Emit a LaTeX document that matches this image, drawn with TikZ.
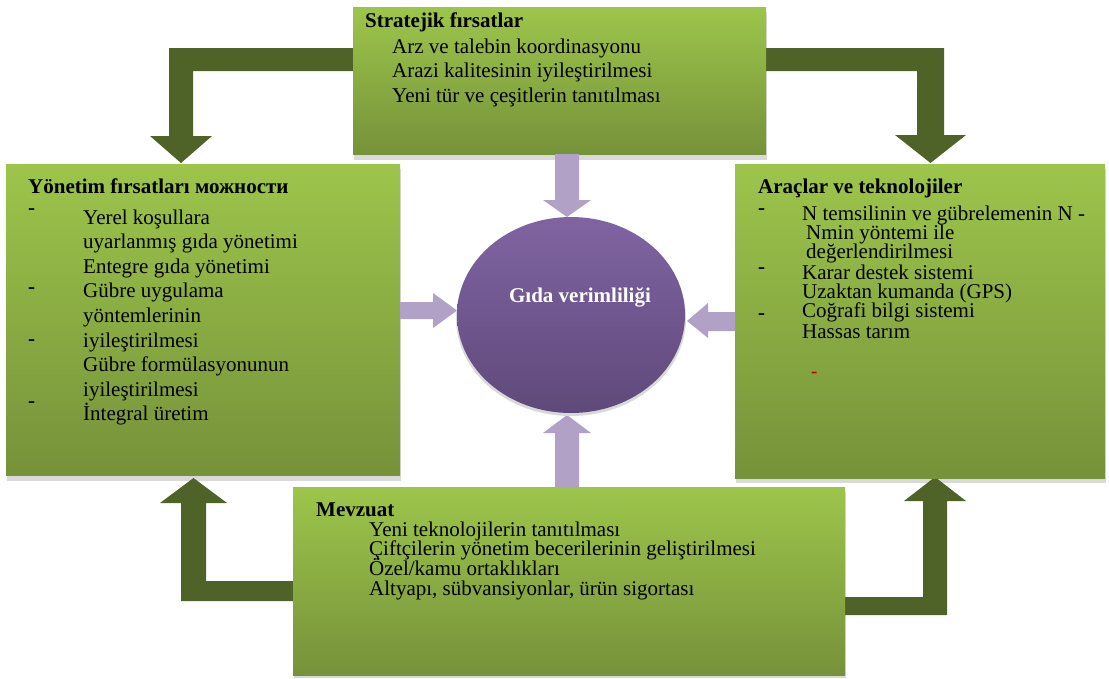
\documentclass[tikz,border=0pt]{standalone}
\usepackage{fontspec}
\setmainfont{Liberation Serif}
\definecolor{gtop}{RGB}{157,197,75}
\definecolor{gbot}{RGB}{118,146,58}
\definecolor{darkg}{RGB}{79,98,40}
\definecolor{lpurp}{RGB}{178,161,199}
\definecolor{ptop}{RGB}{128,100,162}
\definecolor{pbot}{RGB}{95,73,122}
\definecolor{shad}{RGB}{217,217,217}
\definecolor{reddash}{RGB}{192,0,0}
\begin{document}
\begin{tikzpicture}[x=1pt,y=-1pt,
  box/.style={top color=gtop,bottom color=gbot,inner sep=0pt,outer sep=0pt,anchor=north west},
  txt/.style={anchor=base west,inner sep=0pt,font=\fontsize{21}{24}\selectfont},
  ttl/.style={anchor=base west,inner sep=0pt,font=\fontsize{21}{24}\selectfont\bfseries},
  dsh/.style={anchor=base west,inner sep=0pt,font=\fontsize{21}{24}\selectfont\bfseries},
  darr/.style={fill=darkg},
  parr/.style={fill=lpurp},
  shadow/.style={fill=shad}]
\useasboundingbox (0,0) rectangle (1109,678);

% shadows
\fill[shadow] (354,12) rectangle (767,160);
\fill[shadow] (7,169) rectangle (401,481);
\fill[shadow] (736,169) rectangle (1106,483);
\fill[shadow] (294,492) rectangle (846,678);

% big dark arrows
\fill[darr] (353,48) -- (169,48) -- (169,136) -- (150,136) -- (181,163) -- (212,136) -- (193,136) -- (193,71) -- (353,71) -- cycle;
\fill[darr] (766,48) -- (944,48) -- (944,135) -- (966,135) -- (930.5,163) -- (895,135) -- (917,135) -- (917,71) -- (766,71) -- cycle;
\fill[darr] (293,601) -- (181,601) -- (181,503) -- (160,503) -- (193.5,478) -- (227,503) -- (206,503) -- (206,581) -- (293,581) -- cycle;
\fill[darr] (845,615) -- (947,615) -- (947,501) -- (966,501) -- (935,477) -- (904,501) -- (923,501) -- (923,597) -- (845,597) -- cycle;

% boxes
\node[box, minimum width=413pt, minimum height=147pt] (strat) at (353,7) {};
\node[box, minimum width=394pt, minimum height=311pt] (yonet) at (6,164) {};
\node[box, minimum width=370pt, minimum height=314pt] (arac) at (735,164) {};
\node[box, minimum width=552pt, minimum height=188pt] (mevz) at (293,487) {};

% light purple arrows
\fill[parr] (555,154) -- (579,154) -- (579,200) -- (591,200) -- (567,217) -- (543,200) -- (555,200) -- cycle;
\fill[parr] (555,487) -- (579,487) -- (579,433) -- (591,433) -- (567,415) -- (543,433) -- (555,433) -- cycle;
\fill[parr] (400,302) -- (433,302) -- (433,293) -- (457,310.5) -- (433,328) -- (433,319) -- (400,319) -- cycle;
\fill[parr] (735,312) -- (708,312) -- (708,303) -- (687,321) -- (708,338) -- (708,331) -- (735,331) -- cycle;

% central ellipse
\fill[shadow] (571,318) ellipse [x radius=115, y radius=98];
\shade[top color=ptop, bottom color=pbot] (571,315) ellipse [x radius=114, y radius=98];
\node[inner sep=0pt, anchor=base, text=white, font=\fontsize{21}{24}\selectfont\bfseries] (gida) at (580,302) {Gıda verimliliği};

% top box text
\node[ttl] (s0) at (365,27) {Stratejik fırsatlar};
\node[txt] (s1) at (392,53) {Arz ve talebin koordinasyonu};
\node[txt] (s2) at (392,77.5) {Arazi kalitesinin iyileştirilmesi};
\node[txt] (s3) at (392,102) {Yeni tür ve çeşitlerin tanıtılması};

% left box text
\node[ttl] (y0) at (28,193) {Yönetim fırsatları можности};
\node[dsh] (yd1) at (28,214) {-};
\node[dsh] (yd2) at (28,293) {-};
\node[dsh] (yd3) at (28,345) {-};
\node[dsh] (yd4) at (28,407) {-};
\node[txt] (y1) at (83,224) {Yerel koşullara};
\node[txt] (y2) at (83,248.5) {uyarlanmış gıda yönetimi};
\node[txt] (y3) at (83,273) {Entegre gıda yönetimi};
\node[txt] (y4) at (83,297.5) {Gübre uygulama};
\node[txt] (y5) at (83,322) {yöntemlerinin};
\node[txt] (y6) at (83,347) {iyileştirilmesi};
\node[txt] (y7) at (83,371.5) {Gübre formülasyonunun};
\node[txt] (y8) at (83,396) {iyileştirilmesi};
\node[txt] (y9) at (83,420) {İntegral üretim};

% right box text
\node[ttl] (a0) at (758,193) {Araçlar ve teknolojiler};
\node[dsh] (ad1) at (758,214) {-};
\node[dsh] (ad2) at (758,273) {-};
\node[dsh] (ad3) at (758,319) {-};
\node[txt] (a1) at (802,220) {N temsilinin ve gübrelemenin N -};
\node[txt] (a2) at (806,239) {Nmin yöntemi ile};
\node[txt] (a3) at (806,258) {değerlendirilmesi};
\node[txt] (a4) at (802,279) {Karar destek sistemi};
\node[txt] (a5) at (802,298) {Uzaktan kumanda (GPS)};
\node[txt] (a6) at (802,317) {Coğrafi bilgi sistemi};
\node[txt] (a7) at (802,338) {Hassas tarım};
\node[inner sep=0pt, anchor=base west, text=reddash, font=\fontsize{19}{22}\selectfont\bfseries] (ared) at (811,377) {-};

% bottom box text
\node[ttl] (m0) at (316,516) {Mevzuat};
\node[txt] (m1) at (369,536) {Yeni teknolojilerin tanıtılması};
\node[txt] (m2) at (369,555.5) {Çiftçilerin yönetim becerilerinin geliştirilmesi};
\node[txt] (m3) at (369,575) {Özel/kamu ortaklıkları};
\node[txt] (m4) at (369,595) {Altyapı, sübvansiyonlar, ürün sigortası};
\end{tikzpicture}
\end{document}
